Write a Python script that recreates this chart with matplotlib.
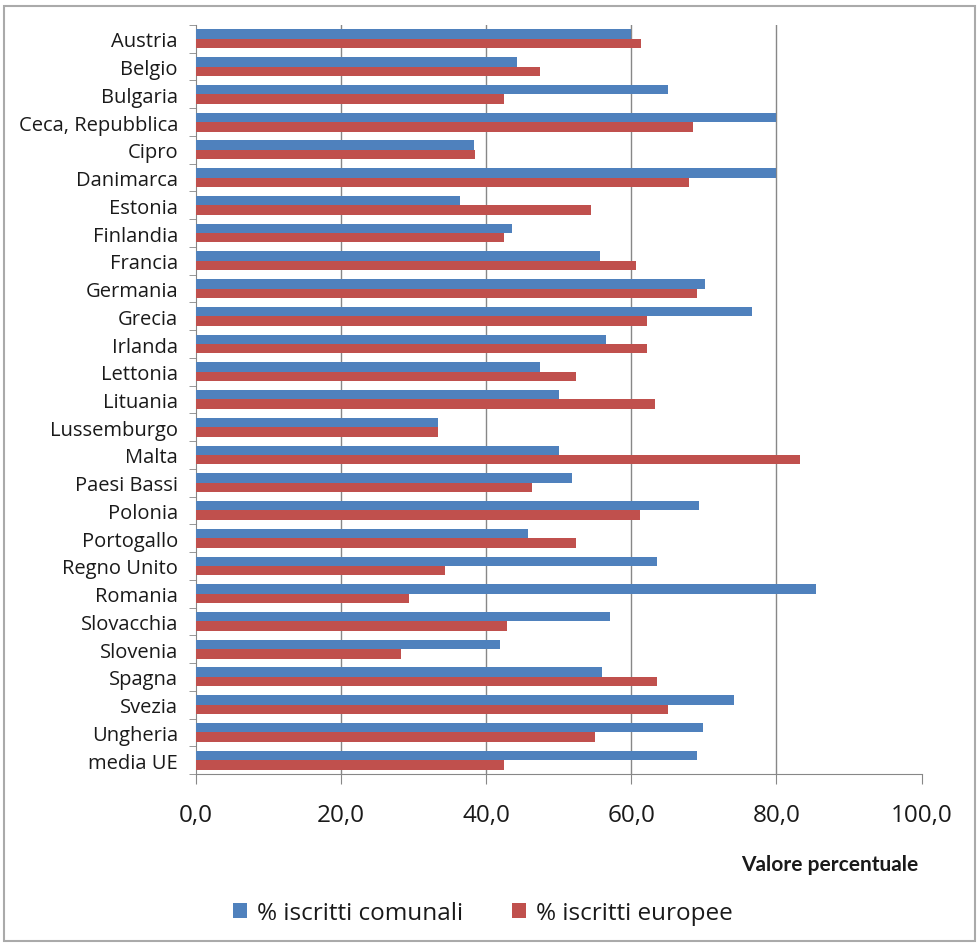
import numpy as np
from matplotlib import pyplot as plt
from matplotlib.patches import Rectangle
from matplotlib.ticker import FixedLocator

plt.rcParams['font.family'] = ['Open Sans', 'DejaVu Sans']

paesi = ['Austria', 'Belgio', 'Bulgaria', 'Ceca, Repubblica', 'Cipro', 'Danimarca',
         'Estonia', 'Finlandia', 'Francia', 'Germania', 'Grecia', 'Irlanda',
         'Lettonia', 'Lituania', 'Lussemburgo', 'Malta', 'Paesi Bassi', 'Polonia',
         'Portogallo', 'Regno Unito', 'Romania', 'Slovacchia', 'Slovenia', 'Spagna',
         'Svezia', 'Ungheria', 'media UE']

comunali = [60.0, 44.3, 65.0, 80.0, 38.3, 80.0,
            36.4, 43.6, 55.7, 70.2, 76.7, 56.5,
            47.4, 50.1, 33.4, 50.1, 51.8, 69.4,
            45.7, 63.5, 85.5, 57.0, 41.9, 55.9,
            74.1, 69.9, 69.0]

europee = [61.4, 47.4, 42.5, 68.5, 38.4, 67.9,
           54.5, 42.5, 60.6, 69.0, 62.1, 62.1,
           52.4, 63.3, 33.4, 83.2, 46.3, 61.2,
           52.4, 34.3, 29.3, 42.8, 28.2, 63.5,
           65.0, 55.0, 42.5]

blu = '#4F81BD'
rosso = '#C0504D'
grigio = '#878787'
testo = '#1a1a1a'

fig = plt.figure(figsize=(9.77, 9.45), dpi=100)
ax = fig.add_axes([0.2006, 0.1799, 0.7426, 0.7926])

y = np.arange(len(paesi))
h = 0.34
ax.barh(y - h / 2, comunali, height=h, color=blu, label='% iscritti comunali', zorder=3)
ax.barh(y + h / 2, europee, height=h, color=rosso, label='% iscritti europee', zorder=3)

ax.set_xlim(0, 100)
ax.set_ylim(len(paesi) - 0.5, -0.5)

for v in [20, 40, 60, 80]:
    ax.axvline(v, color=grigio, lw=1, zorder=1)

ax.set_xticks(np.arange(0, 101, 20))
ax.set_xticklabels([f'{v:.1f}'.replace('.', ',') for v in np.arange(0, 101, 20)],
                   fontsize=17.5, color=testo)
ax.tick_params(axis='x', length=7, color=grigio, pad=14)

ax.set_yticks(y)
ax.set_yticklabels(paesi, fontsize=14.5, color=testo)
ax.yaxis.set_minor_locator(FixedLocator(np.arange(-0.5, len(paesi), 1)))
ax.tick_params(axis='y', which='major', length=0, pad=13)
ax.tick_params(axis='y', which='minor', length=5, color=grigio)

for s in ['top', 'right']:
    ax.spines[s].set_visible(False)
for s in ['left', 'bottom']:
    ax.spines[s].set_color(grigio)

fig.text(0.940, 0.0845, 'Valore percentuale', ha='right', va='center',
         fontsize=15, fontweight='bold', color=testo, family=['Lato', 'DejaVu Sans'])

ax.legend(loc='center', bbox_to_anchor=(0.395, -0.186), ncol=2, frameon=False,
          fontsize=17.5, handlelength=0.6, handleheight=0.6, handletextpad=0.4,
          columnspacing=2.0, labelcolor=testo)

# cornice esterna del grafico
fig.patches.append(Rectangle((0.004, 0.003), 0.994, 0.990, transform=fig.transFigure,
                             fill=False, edgecolor='#aaaaaa', lw=1.5))

fig.savefig('out.png', dpi=100)
